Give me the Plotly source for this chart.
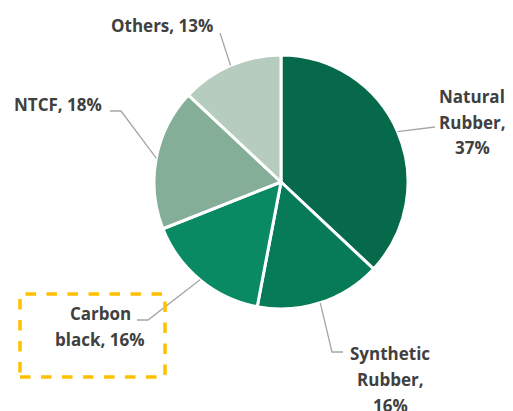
import math
import plotly.graph_objects as go

labels = ["Natural Rubber", "Synthetic Rubber", "Carbon black", "NTCF", "Others"]
values = [37, 16, 16, 18, 13]
colors = ["#06694A", "#077A57", "#0A8A63", "#84AE98", "#B5CCBF"]
label_lines = [["Natural", "Rubber,", "37%"],
               ["Synthetic", "Rubber,", "16%"],
               ["Carbon", "black, 16%"],
               ["NTCF, 18%"],
               ["Others, 13%"]]

# page body has an 8px margin; figure sized to fit the 513x411 window
OFF = 8
W, H = 513 - OFF, 411 - OFF
CX, CY, R = 281, 182, 127

def px(x):
    return (x - OFF) / W

def py(y):
    return 1 - (y - OFF) / H

fig = go.Figure(go.Pie(
    labels=labels, values=values, sort=False, direction="clockwise", rotation=0,
    marker=dict(colors=colors, line=dict(color="white", width=3)),
    textinfo="none", hoverinfo="label+percent", showlegend=False,
    domain=dict(x=[px(CX - R), px(CX + R)], y=[py(CY + R), py(CY - R)]),
))

total = sum(values)
cum = 0
mids = []
for v in values:
    mids.append((cum + v / 2) / total * 2 * math.pi)
    cum += v

leader_paths = [
    [(435, 127)],
    [(332, 352), (343, 352)],
    [(148, 320), (137, 320)],
    [(121, 111), (110, 111)],
    [(220, 33)],
]
shapes = []
for a, pts in zip(mids, leader_paths):
    sx = CX + R * math.sin(a)
    sy = CY - R * math.cos(a)
    path = [(sx, sy)] + pts
    d = "M " + " L ".join(f"{px(x):.5f},{py(y):.5f}" for x, y in path)
    shapes.append(dict(type="path", xref="paper", yref="paper", path=d,
                       line=dict(color="#A6A6A6", width=1.3)))

shapes.append(dict(type="rect", xref="paper", yref="paper",
                   x0=px(20), x1=px(165), y0=py(377), y1=py(294),
                   line=dict(color="#FFC000", width=3.5, dash="dash")))

label_pos = [(472, 96), (390, 353), (100, 313), (58, 104), (162, 26)]
annotations = []
for lines, (x, y) in zip(label_lines, label_pos):
    for i, t in enumerate(lines):
        annotations.append(dict(
            text=t, x=px(x), y=py(y + i * 26), xref="paper", yref="paper",
            xanchor="center", yanchor="middle", showarrow=False,
            font=dict(family="Open Sans", size=17, color="#404040", weight="bold"),
        ))

fig.update_layout(
    width=W, height=H, margin=dict(l=0, r=0, t=0, b=0),
    paper_bgcolor="white", plot_bgcolor="white",
    shapes=shapes, annotations=annotations,
)
fig.write_html("out.html")
